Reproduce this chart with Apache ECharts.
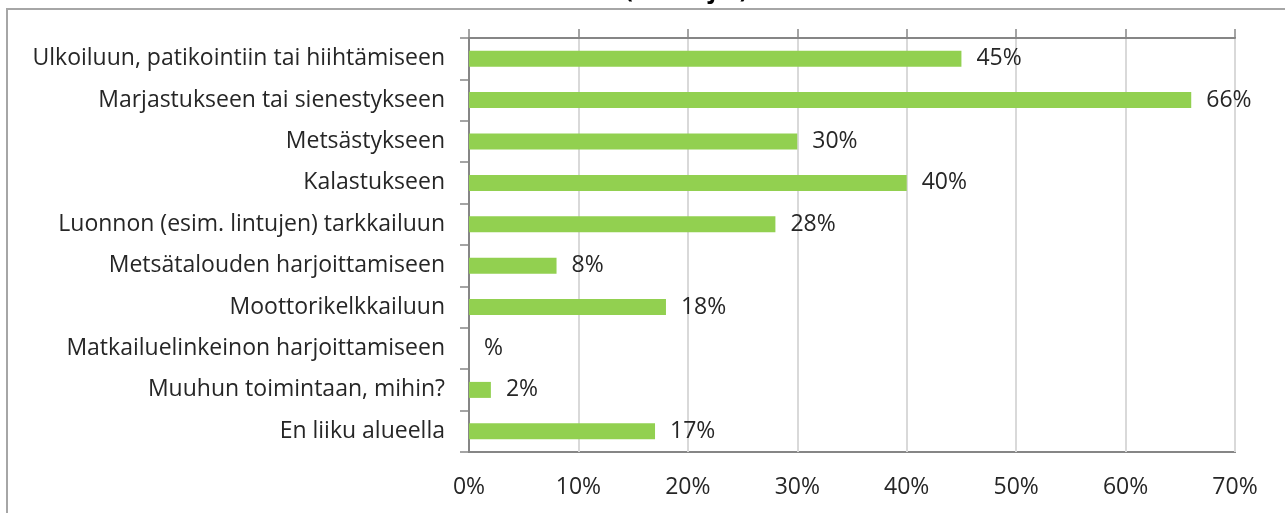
<!DOCTYPE html>
<html>
<head>
<meta charset="utf-8">
<script src="https://cdn.jsdelivr.net/npm/echarts@6/dist/echarts.min.js"></script>
<style>
html, body { margin: 0; padding: 0; background: #fff; }
#chart { width: 1285px; height: 513px; }
</style>
</head>
<body>
<div id="chart"></div>
<script>
// toiminnot, ylhäältä alas
const categories = [
  'Ulkoiluun, patikointiin tai hiihtämiseen',
  'Marjastukseen tai sienestykseen',
  'Metsästykseen',
  'Kalastukseen',
  'Luonnon (esim. lintujen) tarkkailuun',
  'Metsätalouden harjoittamiseen',
  'Moottorikelkkailuun',
  'Matkailuelinkeinon harjoittamiseen',
  'Muuhun toimintaan, mihin?',
  'En liiku alueella'
]
// prosentit, tyhjä = null
const values = [45, 66, 30, 40, 28, 8, 18, null, 2, 17]
const ticks = [0, 10, 20, 30, 40, 50, 60, 70]

const font = 'Open Sans'
const size = 23
const myChart = echarts.init(document.getElementById('chart'))

const option = {
  animation: false,
  textStyle: { fontFamily: font },
  title: {
    text: '(vastaajat)',
    left: 620,
    top: -25,
    textStyle: { fontSize: size, fontWeight: 'bold', color: '#000', fontFamily: font }
  },
  graphic: [{
    type: 'rect',
    shape: { x: 7, y: 9, width: 1320, height: 560 },
    style: { fill: 'none', stroke: '#a6a6a6', lineWidth: 2 },
    silent: true
  }],
  grid: {
    left: 469,
    right: 50,
    top: 38,
    bottom: 61,
    show: true,
    borderColor: '#868686',
    borderWidth: 2
  },
  xAxis: [{
    type: 'value',
    position: 'bottom',
    min: ticks[0],
    max: ticks[ticks.length - 1],
    interval: 10,
    axisLine: { show: false },
    axisTick: { show: false },
    splitLine: { lineStyle: { color: '#d9d9d9', width: 2 } },
    axisLabel: {
      formatter: '{value}%',
      fontSize: size,
      color: '#262626',
      margin: 24
    }
  }, {
    type: 'value',
    position: 'top',
    min: ticks[0],
    max: ticks[ticks.length - 1],
    interval: 10,
    axisLine: { show: true, lineStyle: { color: '#868686', width: 2 } },
    axisTick: { show: true, length: 9, lineStyle: { color: '#868686', width: 1.5 } },
    axisLabel: { show: false },
    splitLine: { show: false }
  }],
  yAxis: {
    type: 'category',
    inverse: true,
    data: categories,
    axisLine: { lineStyle: { color: '#868686', width: 2 } },
    axisTick: { show: true, length: 9, lineStyle: { color: '#868686', width: 1.5 } },
    axisLabel: {
      fontSize: size,
      color: '#262626',
      margin: 24
    }
  },
  series: [{
    type: 'bar',
    data: values.map(v => v === null ? 0 : v),
    barWidth: 16,
    itemStyle: { color: '#92d050' },
    label: {
      show: true,
      position: 'right',
      distance: 15,
      fontSize: size,
      color: '#262626',
      formatter: p => (values[p.dataIndex] === null ? '' : values[p.dataIndex]) + '%'
    }
  }]
}

myChart.setOption(option)
</script>
</body>
</html>
